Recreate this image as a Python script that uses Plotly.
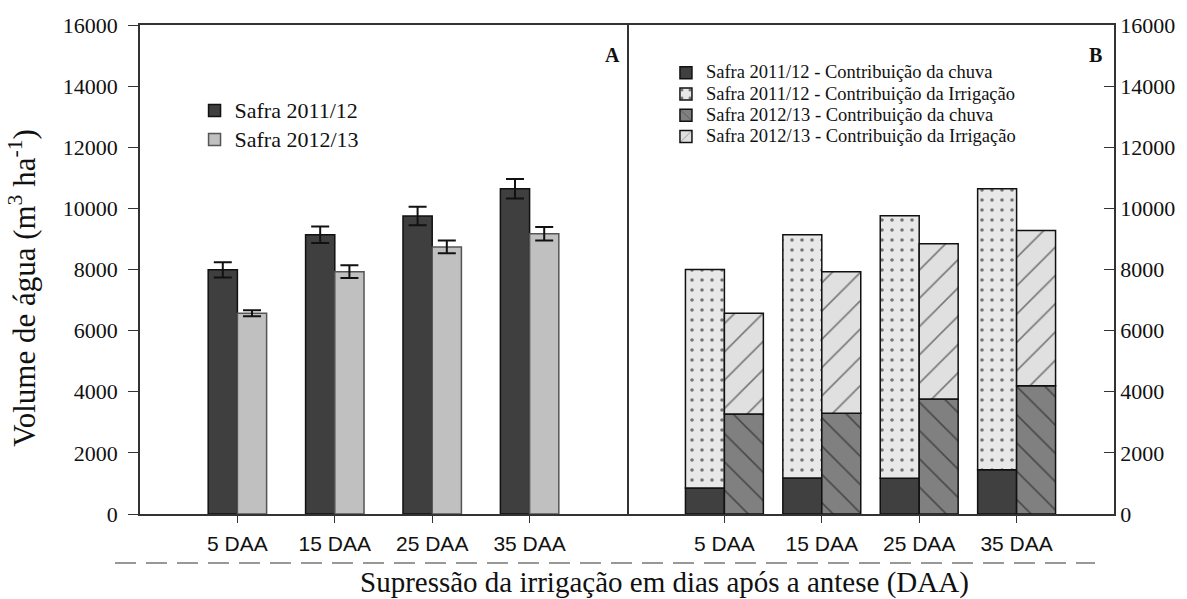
import plotly.graph_objects as go

# Categories: irrigation cut-off, days after anthesis
categories = ["5 DAA", "15 DAA", "25 DAA", "35 DAA"]

# Panel A: total water volume (m3/ha) with error bars
vol_1112 = [7990, 9140, 9750, 10640]
err_1112 = [250, 270, 300, 320]
vol_1213 = [6570, 7930, 8740, 9170]
err_1213 = [100, 210, 210, 220]

# Panel B: rain and irrigation contributions (m3/ha)
chuva_1112 = [850, 1180, 1170, 1450]
irrig_1112 = [7150, 7960, 8590, 9190]
chuva_1213 = [3270, 3300, 3760, 4200]
irrig_1213 = [3300, 4630, 5080, 5080]

y_tickvals = [0, 2000, 4000, 6000, 8000, 10000, 12000, 14000, 16000]
y_ticktext = ["0", "2000", "4000", "6000", "8000", "10000", "12000", "14000", "16000"]

pos = list(range(len(categories)))
base_1112 = chuva_1112
base_1213 = chuva_1213

SERIF = "Liberation Serif, Times New Roman, serif"
SANS = "Liberation Sans, Arial, sans-serif"
AXIS = "#333333"


def big(label, px):
    # legend rows stay compact while the entry text is drawn larger
    return f"<span style='font-size:{px}px'>{label}</span>"


fig = go.Figure()

# ---- Panel A: grouped bars with error bars
fig.add_trace(go.Bar(
    x=pos, y=vol_1112, width=0.3, offset=-0.3,
    name=big("Safra 2011/12", 22), legend="legend",
    marker=dict(color="#3f3f3f", line=dict(color="#111111", width=1.5)),
    error_y=dict(type="data", array=err_1112, color="#111111", thickness=2, width=9),
    xaxis="x", yaxis="y",
))
fig.add_trace(go.Bar(
    x=pos, y=vol_1213, width=0.3, offset=0,
    name=big("Safra 2012/13", 22), legend="legend",
    marker=dict(color="#c0c0c0", line=dict(color="#555555", width=1.5)),
    error_y=dict(type="data", array=err_1213, color="#111111", thickness=2, width=9),
    xaxis="x", yaxis="y",
))

# ---- Panel B: stacked contributions, one stack per season
fig.add_trace(go.Bar(
    x=pos, y=chuva_1112, width=0.4, offset=-0.4,
    name=big("Safra 2011/12 - Contribuição da chuva", 18.5), legend="legend2",
    marker=dict(color="#404040", line=dict(color="#111111", width=1.5)),
    xaxis="x2", yaxis="y2",
))
fig.add_trace(go.Bar(
    x=pos, y=irrig_1112, base=base_1112, width=0.4, offset=-0.4,
    name=big("Safra 2011/12 - Contribuição da Irrigação", 18.5), legend="legend2",
    marker=dict(color="#e8e8e8", line=dict(color="#111111", width=1.5),
                pattern=dict(shape=".", fillmode="overlay", fgcolor="#000000",
                             bgcolor="#e8e8e8", size=10, solidity=0.1)),
    xaxis="x2", yaxis="y2",
))
fig.add_trace(go.Bar(
    x=pos, y=chuva_1213, width=0.4, offset=0,
    name=big("Safra 2012/13 - Contribuição da chuva", 18.5), legend="legend2",
    marker=dict(color="#808080", line=dict(color="#111111", width=1.5),
                pattern=dict(shape="\\", fillmode="overlay", fgcolor="#111111",
                             bgcolor="#808080", size=20, solidity=0.08)),
    xaxis="x2", yaxis="y2",
))
fig.add_trace(go.Bar(
    x=pos, y=irrig_1213, base=base_1213, width=0.4, offset=0,
    name=big("Safra 2012/13 - Contribuição da Irrigação", 18.5), legend="legend2",
    marker=dict(color="#e0e0e0", line=dict(color="#111111", width=1.5),
                pattern=dict(shape="/", fillmode="overlay", fgcolor="#111111",
                             bgcolor="#e0e0e0", size=20, solidity=0.08)),
    xaxis="x2", yaxis="y2",
))

xaxis_common = dict(
    range=[-1, 4], tickmode="array", tickvals=pos, ticktext=categories,
    ticks="outside", ticklen=7, tickwidth=1.2, tickcolor=AXIS,
    showline=True, linecolor=AXIS, linewidth=1.5, mirror=True,
    showgrid=False, zeroline=False, ticklabelstandoff=3,
    tickfont=dict(family=SANS, size=21, color="#111111"),
)
yaxis_common = dict(
    range=[0, 16000], tickmode="array", tickvals=y_tickvals, ticktext=y_ticktext,
    ticklen=10, tickwidth=1.2, tickcolor=AXIS,
    showline=True, linecolor=AXIS, linewidth=1.5,
    showgrid=False, zeroline=False,
    tickfont=dict(family=SERIF, size=22, color="#111111"),
)

fig.update_layout(
    width=1187, height=599,
    margin=dict(l=140, r=73, t=25, b=85),
    paper_bgcolor="white", plot_bgcolor="white",
    barmode="overlay",
    xaxis=dict(domain=[0, 0.5], anchor="y", **xaxis_common),
    xaxis2=dict(domain=[0.5, 1], anchor="y2", **xaxis_common),
    yaxis=dict(anchor="x", side="left", ticks="outside", mirror=True,
               ticklabelstandoff=6, **yaxis_common),
    yaxis2=dict(anchor="x2", side="right", ticks="inside", mirror=False,
                **yaxis_common),
    legend=dict(
        x=0.056, y=0.865, xanchor="left", yanchor="top",
        bgcolor="rgba(0,0,0,0)", borderwidth=0,
        font=dict(family=SERIF, size=20, color="#111111"),
    ),
    legend2=dict(
        x=0.54, y=0.934, xanchor="left", yanchor="top",
        bgcolor="rgba(0,0,0,0)", borderwidth=0,
        font=dict(family=SERIF, size=14, color="#111111"),
    ),
    shapes=[
        dict(type="line", xref="paper", yref="paper",
             x0=-0.0257, x1=0.9805, y0=-0.1002, y1=-0.1002,
             line=dict(color="#333333", width=1.2, dash="21px,10px")),
    ],
    annotations=[
        dict(text="<b>A</b>", x=0.4846, y=0.939, xref="paper", yref="paper",
             xanchor="center", yanchor="middle", showarrow=False,
             font=dict(family=SERIF, size=20, color="#111111")),
        dict(text="<b>B</b>", x=0.9805, y=0.939, xref="paper", yref="paper",
             xanchor="center", yanchor="middle", showarrow=False,
             font=dict(family=SERIF, size=20, color="#111111")),
        dict(text="Supressão da irrigação em dias após a antese (DAA)",
             x=0.539, y=-0.141, xref="paper", yref="paper", showarrow=False,
             xanchor="center", yanchor="middle",
             font=dict(family=SERIF, size=29, color="#111111")),
        dict(text="Volume de água (m<sup>3</sup> ha<sup>-1</sup>)",
             x=-0.121, y=0.463, xref="paper", yref="paper", showarrow=False,
             textangle=-90, xanchor="center", yanchor="middle",
             font=dict(family=SERIF, size=31, color="#111111")),
    ],
)

fig.write_html("out.html")
